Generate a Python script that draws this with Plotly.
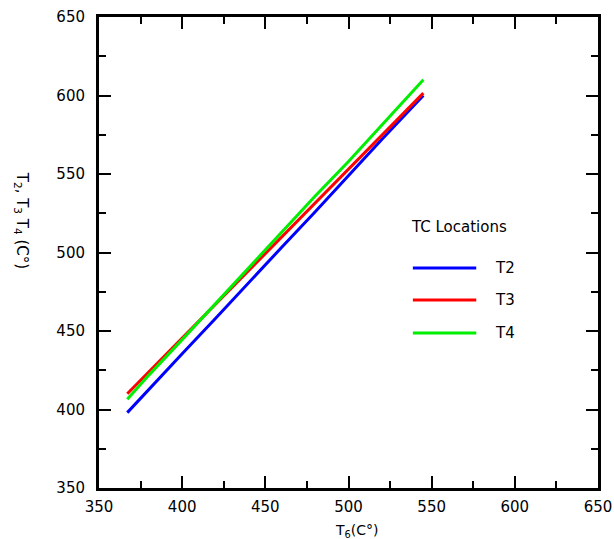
import plotly.graph_objects as go

# Data
t6 = [367, 380, 400, 420, 440, 460, 480, 500, 520, 545]
t2 = [398, 412.5, 435.5, 458, 481, 503.5, 526, 549, 572, 600]
t3 = [410, 424, 445.5, 467, 488.5, 510, 531.6, 553, 574.6, 601.5]
t4 = [406.5, 421.9, 444.5, 467.3, 490, 513, 536, 558, 581, 610]
series_names = ["T2", "T3", "T4"]
series_colors = ["#0000ff", "#ff0000", "#00ee00"]
x_ticks = [350, 400, 450, 500, 550, 600, 650]
y_ticks = [350, 400, 450, 500, 550, 600, 650]

FONT = "DejaVu Sans"
fig = go.Figure()
for name, ys, col in zip(series_names, [t2, t3, t4], series_colors):
    fig.add_trace(go.Scatter(x=t6, y=ys, mode="lines", name=name,
                             line=dict(color=col, width=3), showlegend=False))

axis_common = dict(
    showgrid=False, zeroline=False, showline=True, linecolor="black", linewidth=3,
    mirror="ticks", ticks="inside", ticklen=12, tickwidth=2, tickcolor="black",
    minor=dict(ticks="inside", ticklen=7, tickwidth=2, tickcolor="black", dtick=25),
    tickfont=dict(family=FONT, size=15, color="black"), automargin=False,
)
fig.update_xaxes(range=[350, 650], tickvals=x_ticks, ticklabelstandoff=3, **axis_common)
fig.update_yaxes(range=[350, 650], tickvals=y_ticks, ticklabelstandoff=8, **axis_common)

# Manual legend
fig.add_annotation(x=0.621, y=0.554, xref="paper", yref="paper", text="TC Locations",
                   showarrow=False, xanchor="left", yanchor="middle",
                   font=dict(family=FONT, size=15, color="black"))
leg_y = [0.467, 0.399, 0.329]
for name, col, yy in zip(series_names, series_colors, leg_y):
    fig.add_shape(type="line", xref="paper", yref="paper", x0=0.629, x1=0.756, y0=yy, y1=yy,
                  line=dict(color=col, width=3))
    fig.add_annotation(x=0.789, y=yy, xref="paper", yref="paper", text=name,
                       showarrow=False, xanchor="left", yanchor="middle",
                       font=dict(family=FONT, size=15, color="black"))

# Axis titles
fig.add_annotation(x=0.517, y=-0.068, xref="paper", yref="paper",
                   text="T<sub>6</sub>(C°)", showarrow=False, yanchor="top",
                   font=dict(family=FONT, size=14, color="black"))
fig.add_annotation(x=-0.178, y=0.568, xref="paper", yref="paper",
                   text="T<sub>2</sub>, T<sub>3</sub> T<sub>4</sub> (C°)", showarrow=False,
                   textangle=90, font=dict(family=FONT, size=15, color="black"))

fig.update_layout(width=614, height=539, margin=dict(l=99, r=16, t=17, b=51),
                  paper_bgcolor="white", plot_bgcolor="white")
fig.write_html("out.html", config={"displayModeBar": False},
               post_script="document.body.style.margin='0px';document.body.style.overflow='hidden';")
